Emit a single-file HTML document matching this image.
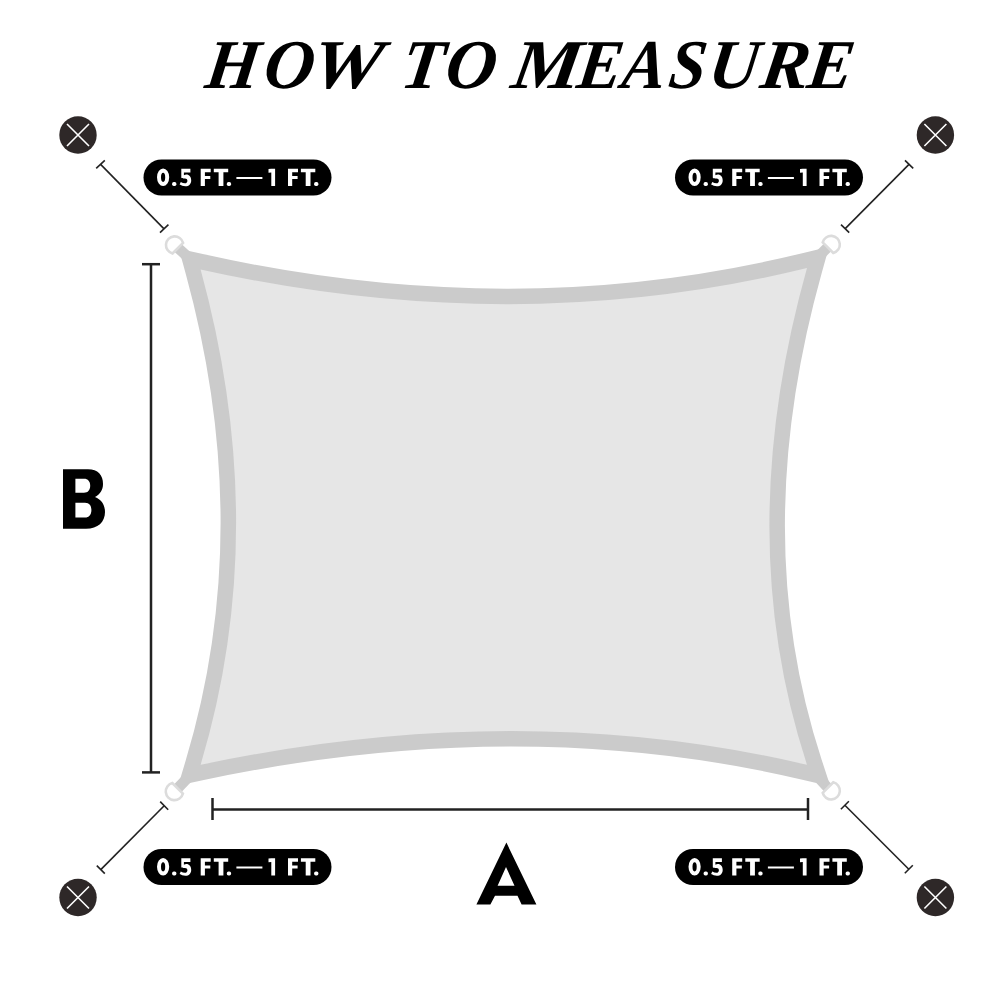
<!DOCTYPE html>
<html><head><meta charset="utf-8">
<style>
html,body{margin:0;padding:0;background:#fff;width:1000px;height:1000px;overflow:hidden}
svg{display:block}
</style></head>
<body>
<svg width="1000" height="1000" viewBox="0 0 1000 1000">
<rect width="1000" height="1000" fill="#fff"/>
<!-- title -->
<g font-family="Liberation Serif" font-weight="bold" font-style="italic" font-size="70" fill="#000">
  <text transform="translate(203.49,88.4) scale(0.979,1) skewX(-8)">H</text>
  <text transform="translate(261.85,88.4) scale(0.990,1) skewX(-8)">O</text>
  <text transform="translate(308.53,88.4) scale(1.144,1) skewX(-8)">W</text>
  <text transform="translate(399.12,88.4) scale(0.996,1) skewX(-8)">T</text>
  <text transform="translate(443.19,88.4) scale(1.002,1) skewX(-8)">O</text>
  <text transform="translate(509.60,88.4) scale(1.108,1) skewX(-8)">M</text>
  <text transform="translate(575.28,88.4) scale(0.964,1) skewX(-8)">E</text>
  <text transform="translate(620.14,88.4) scale(0.929,1) skewX(-8)">A</text>
  <text transform="translate(666.99,88.4) scale(0.941,1) skewX(-8)">S</text>
  <text transform="translate(706.18,88.4) scale(0.990,1) skewX(-8)">U</text>
  <text transform="translate(758.30,88.4) scale(1.041,1) skewX(-8)">R</text>
  <text transform="translate(805.49,88.4) scale(0.976,1) skewX(-8)">E</text>
</g>

<!-- sail -->
<g id="sail">
  <!-- straps -->
  <g stroke="#cbcbcb" stroke-width="10.5" stroke-linecap="butt">
    <line x1="178" y1="248" x2="200" y2="268"/>
    <line x1="828" y1="247" x2="807" y2="268"/>
    <line x1="177" y1="789" x2="200" y2="765"/>
    <line x1="828" y1="788" x2="807" y2="765"/>
  </g>
  <path d="M200.6,269.4 Q514.8,339.6 807,268 Q731.8,535.8 807,764.8 Q519.7,697.2 200.6,764.8 Q271.6,528.5 200.6,269.4 Z" fill="#e6e6e6" stroke="#cbcbcb" stroke-width="31" stroke-linejoin="miter" stroke-miterlimit="10"/>
  <path d="M200.6,269.4 Q514.8,339.6 807,268 Q731.8,535.8 807,764.8 Q519.7,697.2 200.6,764.8 Q271.6,528.5 200.6,269.4 Z" fill="#e6e6e6"/>
  <!-- rings -->
  <g fill="#fff" stroke="#dcdcdc" stroke-width="2.6">
    <path transform="translate(174.6,245) rotate(45)" d="M4.5,-7.5 A8.7,8.7 0 1 0 4.5,7.5 Z"/>
    <path transform="translate(831.2,244.5) rotate(135)" d="M4.5,-7.5 A8.7,8.7 0 1 0 4.5,7.5 Z"/>
    <path transform="translate(174.4,791.5) rotate(-45)" d="M4.5,-7.5 A8.7,8.7 0 1 0 4.5,7.5 Z"/>
    <path transform="translate(831.2,790.8) rotate(-135)" d="M4.5,-7.5 A8.7,8.7 0 1 0 4.5,7.5 Z"/>
  </g>
</g>

<!-- B dimension -->
<g stroke="#222" stroke-width="2.5" fill="none">
  <line x1="151" y1="264" x2="151" y2="772.5"/>
  <line x1="142" y1="264.2" x2="160" y2="264.2"/>
  <line x1="142" y1="772.4" x2="160" y2="772.4"/>
  <line x1="212.5" y1="809.4" x2="808" y2="809.4"/>
  <line x1="212.5" y1="798" x2="212.5" y2="820"/>
  <line x1="808" y1="798" x2="808" y2="820"/>
</g>
<!-- corner dimension lines -->
<g stroke="#222" stroke-width="1.6" fill="none">
  <line x1="100.6" y1="164.4" x2="163.8" y2="228.6"/>
  <line x1="96.2" y1="168.4" x2="104.8" y2="160.4"/>
  <line x1="160" y1="232.6" x2="168.4" y2="224.6"/>
  <line x1="909" y1="164.4" x2="845.2" y2="228.6"/>
  <line x1="905" y1="160.4" x2="913.2" y2="168.4"/>
  <line x1="841" y1="224.6" x2="849.2" y2="232.6"/>
  <line x1="164.2" y1="805.8" x2="100.8" y2="869.6"/>
  <line x1="160.2" y1="801.6" x2="168.2" y2="809.8"/>
  <line x1="96.8" y1="865.6" x2="104.8" y2="873.6"/>
  <line x1="844.9" y1="805.3" x2="908.8" y2="869.2"/>
  <line x1="840.9" y1="809.3" x2="848.9" y2="801.3"/>
  <line x1="904.8" y1="873.2" x2="912.8" y2="865.2"/>
</g>
<!-- X circles -->
<g>
  <circle cx="78" cy="135" r="18.7" fill="#2e2828"/>
  <circle cx="935.4" cy="135" r="18.7" fill="#2e2828"/>
  <circle cx="78" cy="897.5" r="18.7" fill="#2e2828"/>
  <circle cx="935.4" cy="897.5" r="18.7" fill="#2e2828"/>
  <g stroke="#fff" stroke-width="1.6">
    <path d="M67,124 L89,146 M89,124 L67,146"/>
    <path d="M924.4,124 L946.4,146 M946.4,124 L924.4,146"/>
    <path d="M67,886.5 L89,908.5 M89,886.5 L67,908.5"/>
    <path d="M924.4,886.5 L946.4,908.5 M946.4,886.5 L924.4,908.5"/>
  </g>
</g>
<!-- pills -->
<defs>
  <path id="g0" fill-rule="evenodd" d="M0,-8.75 A6.1,8.75 0 1 0 12.2,-8.75 A6.1,8.75 0 1 0 0,-8.75 Z M4,-8.7 A2.1,4.6 0 1 0 8.2,-8.7 A2.1,4.6 0 1 0 4,-8.7 Z"/>
  <rect id="gd" x="0" y="-4" width="4.3" height="4" rx="1.7"/>
  <path id="g5" d="M2,-17.2 H11.1 V-13.6 H4.6 V-10.8 C5.4,-11.2 6.2,-11.4 7,-11.4 C10,-11.4 11.9,-8.8 11.9,-5.6 C11.9,-2.2 9.6,0.25 6.1,0.25 C3.9,0.25 1.8,-0.6 0.3,-1.4 L1.5,-3.9 C2.8,-3.1 4.3,-2.7 5.7,-2.7 C7.2,-2.7 8.1,-3.8 8.1,-5.3 C8.1,-6.8 7.1,-7.6 5.7,-7.6 C4.6,-7.6 3.2,-7.5 2,-8.3 Z"/>
  <path id="gF" d="M0,-17.2 H10 V-13.8 H4.2 V-9.9 H9.6 V-7 H4.2 V0 H0 Z"/>
  <path id="gT" d="M0,-17.2 H14.4 V-13.8 H9.6 V0 H4.8 V-13.8 H0 Z"/>
  <path id="g1" d="M0,-16.9 L2.7,-17.2 H6.6 V0 H2.8 V-13.6 L0,-13.3 Z"/>
  <g id="pill">
    <rect x="0" y="-26.5" width="188" height="36" rx="18" fill="#000"/>
    <g fill="#fff">
      <use href="#g0" x="13.5"/>
      <use href="#gd" x="28.6"/>
      <use href="#g5" x="35.8"/>
      <use href="#gF" x="57.2"/>
      <use href="#gT" x="70.3"/>
      <use href="#gd" x="83.3"/>
      <rect x="92.9" y="-9" width="26" height="2"/>
      <use href="#g1" x="125"/>
      <use href="#gF" x="144.5"/>
      <use href="#gT" x="157.4"/>
      <use href="#gd" x="170.6"/>
    </g>
  </g>
</defs>
<use href="#pill" x="143.5" y="186"/>
<use href="#pill" x="675" y="186"/>
<use href="#pill" x="143.5" y="875.5"/>
<use href="#pill" x="675" y="875.5"/>
<!-- letters -->
<path fill="#000" fill-rule="evenodd" d="M63,469.2 H88 C98,469.2 103,475 103,484 C103,490 100,494.5 95,497 C101.5,499.5 105,505 105,512 C105,522 98,528.8 86,528.8 H63 Z M75.4,478.8 H84 C88,478.8 90.2,481.5 90.2,485.8 C90.2,490 88,492.8 84,492.8 H75.4 Z M75.4,502.8 H85 C89.5,502.8 91.4,506 91.4,510.2 C91.4,514.5 89,517.6 85,517.6 H75.4 Z"/>
<path fill="#000" fill-rule="evenodd" d="M476.4,904.6 L506.4,842.6 L536.4,904.6 L521.6,904.6 L517.5,895.8 L495,895.8 L490.4,904.6 Z M497.6,885.8 L506,867 L514.5,885.8 Z"/>
</svg>
</body></html>
